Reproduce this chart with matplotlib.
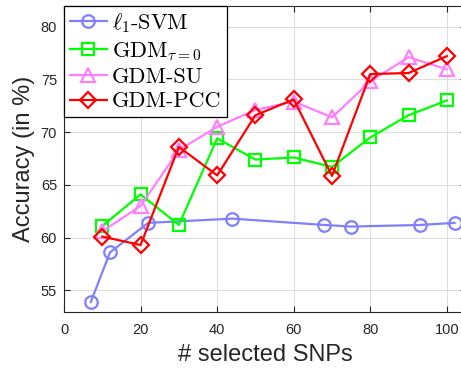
import numpy as np
import matplotlib
matplotlib.use('Agg')
import matplotlib.pyplot as plt

# data
svm_x = [7, 12, 22, 44, 68, 75, 93, 102]
svm_y = [53.9, 58.6, 61.4, 61.8, 61.2, 61.05, 61.2, 61.4]

n_snps = [10, 20, 30, 40, 50, 60, 70, 80, 90, 100]
gdm_tau0 = [61.1, 64.1, 61.2, 69.4, 67.4, 67.6, 66.7, 69.5, 71.6, 73.0]
gdm_su = [60.6, 63.0, 68.3, 70.5, 72.1, 72.9, 71.4, 74.8, 77.1, 75.95]
gdm_pcc = [60.1, 59.3, 68.6, 65.9, 71.6, 73.1, 65.85, 75.5, 75.6, 77.2]

labels = [r'$\ell_1$-SVM', r'GDM$_{\tau=0}$', 'GDM-SU', 'GDM-PCC']

plt.rcParams['mathtext.fontset'] = 'cm'
plt.rcParams['font.family'] = ['Liberation Sans', 'DejaVu Sans']

fig = plt.figure(figsize=(4.61, 3.69), dpi=100)
ax = fig.add_axes([64 / 461, 57.5 / 369, 402 / 461, 306 / 369])

dark = '#262626'
kw = dict(lw=1.6, ms=9, mew=1.6, mfc='none')
ax.plot(svm_x, svm_y, marker='o', color='#8080ff', label=labels[0], **kw)
ax.plot(n_snps, gdm_tau0, marker='s', color='#00ff00', label=labels[1],
        **dict(kw, ms=8.5))
ax.plot(n_snps, gdm_su, marker='^', color='#ff80ff', label=labels[2],
        **dict(kw, ms=10))
ax.plot(n_snps, gdm_pcc, marker='D', color='#ff0000', label=labels[3],
        **dict(kw, ms=8.5))

ax.set_xlim(0, 105)
ax.set_ylim(53, 82)
ax.set_xticks(np.arange(0, 101, 20))
ax.set_yticks(np.arange(55, 81, 5))
ax.grid(True, color='#dedede', lw=0.8)
ax.set_axisbelow(True)
ax.tick_params(direction='in', length=4, width=0.8, colors=dark,
               labelsize=10.5, top=True, right=True)
ax.tick_params(axis='x', pad=8)
ax.tick_params(axis='y', pad=5)
for s in ax.spines.values():
    s.set_color(dark)
    s.set_linewidth(0.8)

ax.set_xlabel('# selected SNPs', fontsize=17, color=dark, labelpad=5)
ax.set_ylabel('Accuracy (in %)', fontsize=17, color=dark, labelpad=4)

leg = ax.legend(loc='upper left', borderaxespad=0,
                prop={'family': 'cmr10', 'size': 16},
                handlelength=1.7, handletextpad=0.2, labelspacing=0.22,
                borderpad=0.25, fancybox=False, framealpha=1)
leg.get_frame().set_edgecolor('black')
leg.get_frame().set_linewidth(0.9)

fig.savefig('out.png', dpi=100)
